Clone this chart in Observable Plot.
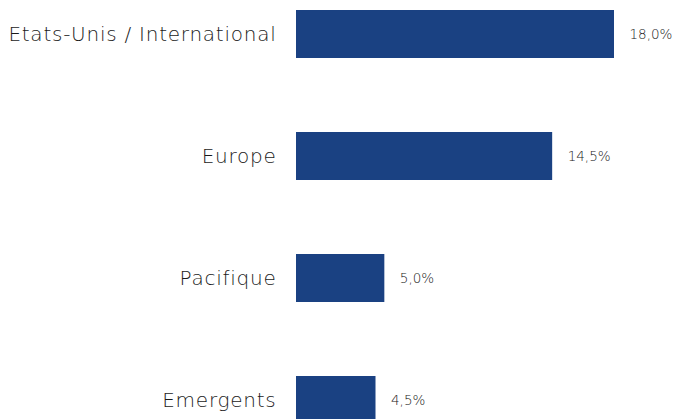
<!DOCTYPE html>
<html>
<head>
<meta charset="utf-8">
<script src="https://cdn.jsdelivr.net/npm/d3@7"></script>
<script src="https://cdn.jsdelivr.net/npm/@observablehq/plot@0.6"></script>
<style>
html, body { margin: 0; padding: 0; overflow: hidden; background: #fff; }
.cat-axis text { letter-spacing: 0.75px; }
</style>
</head>
<body>
<div id="chart"></div>
<script>
const categories = ["Etats-Unis / International", "Europe", "Pacifique", "Emergents"];
const values = [18.0, 14.5, 5.0, 4.5];
const valueLabels = ["18,0%", "14,5%", "5,0%", "4,5%"];

const data = categories.map((c, i) => ({category: c, value: values[i], label: valueLabels[i]}));

const chart = Plot.plot({
  width: 675,
  height: 435,
  marginLeft: 296,
  marginRight: 61,
  marginTop: 0,
  marginBottom: 0,
  style: {fontFamily: "'DejaVu Sans', sans-serif", background: "#fff"},
  x: {domain: [0, 18], axis: null},
  y: {domain: categories, paddingInner: 0.605, paddingOuter: 0.0734, label: null, axis: null},
  marks: [
    Plot.barX(data, {x: "value", y: "category", fill: "#1a4182"}),
    Plot.axisY({tickSize: 0, tickPadding: 20, fontSize: 20, fontWeight: 200, fill: "#1a1a1a", label: null, className: "cat-axis"}),
    Plot.text(data, {x: "value", y: "category", text: "label", dx: 15, textAnchor: "start", fontSize: 13.5, fontWeight: 200, fill: "#222"})
  ]
});
document.getElementById("chart").appendChild(chart);
</script>
</body>
</html>
